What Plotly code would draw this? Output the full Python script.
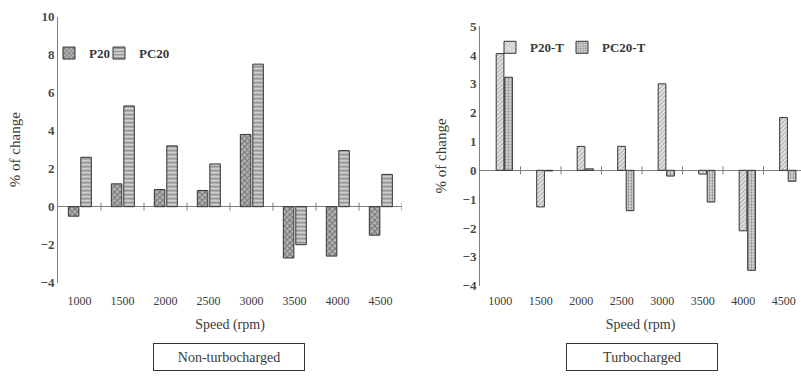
import plotly.graph_objects as go

speeds = ["1000", "1500", "2000", "2500", "3000", "3500", "4000", "4500"]
p20 = [-0.5, 1.2, 0.9, 0.85, 3.8, -2.7, -2.6, -1.5]
pc20 = [2.6, 5.3, 3.2, 2.25, 7.5, -2.0, 2.95, 1.7]
p20_t = [4.05, -1.27, 0.83, 0.83, 3.0, -0.13, -2.1, 1.83]
pc20_t = [3.23, -0.02, 0.05, -1.4, -0.2, -1.1, -3.47, -0.38]

FONT = "Liberation Serif"
TXT = "#3a3a3a"
AX = "#7f7f7f"
W, H = 801, 381

fig = go.Figure()

def bar(name, x, y, xa, ya, shape, bg, fg, off, wid, legend, size=4, sol=0.4):
    fig.add_trace(go.Bar(
        name=name, x=x, y=y, xaxis=xa, yaxis=ya, legend=legend,
        offset=off, width=wid,
        marker=dict(color=bg, line=dict(color="#333333", width=1),
                    pattern=dict(shape=shape, fgcolor=fg, bgcolor=bg, size=size, solidity=sol)),
    ))

bar("P20", speeds, p20, "x", "y", "x", "#b5b5b5", "#2e2e2e", -0.26, 0.245, "legend", 4, 0.45)
bar("PC20", speeds, pc20, "x", "y", "-", "#cfcfcf", "#444444", 0.03, 0.245, "legend2", 4, 0.4)
bar("P20-T", speeds, p20_t, "x2", "y2", "/", "#e6e6e6", "#6a6a6a", -0.1, 0.19, "legend3", 3, 0.35)
bar("PC20-T", speeds, pc20_t, "x2", "y2", ".", "#dcdcdc", "#444444", 0.11, 0.19, "legend4", 3, 0.45)

def px_x(p):
    return p / W

def px_y(p):
    return 1 - p / H

tickfont_x = dict(family=FONT, size=12, color=TXT)
titlefont = dict(family=FONT, size=14, color=TXT)
ytitlefont = dict(family=FONT, size=15, color=TXT)
ytick = dict(family=FONT, size=13, color="#4a4a4a", weight="bold")
legfont = dict(family=FONT, size=13, color=TXT, weight="bold")

def leg(xp, yp):
    return dict(x=px_x(xp), y=px_y(yp), xanchor="left", yanchor="middle",
                orientation="h", bgcolor="rgba(0,0,0,0)", itemwidth=30, font=legfont)

fig.update_layout(
    width=W, height=H, margin=dict(l=0, r=0, t=0, b=0),
    paper_bgcolor="white", plot_bgcolor="white",
    font=dict(family=FONT, color=TXT),
    xaxis=dict(domain=[px_x(58), px_x(402)], anchor="y", type="category",
               range=[-0.5, 7.5], showline=False, showgrid=False, ticks="",
               tickfont=tickfont_x, ticklabelstandoff=9,
               title=dict(text="Speed (rpm)", font=titlefont, standoff=12)),
    yaxis=dict(domain=[px_y(287), px_y(10)], anchor="x", range=[-4, 10],
               dtick=2, showline=True, linecolor=AX, linewidth=1, showgrid=False,
               zeroline=True, zerolinecolor=AX, zerolinewidth=1, ticks="",
               tickfont=ytick,
               title=dict(text="% of change", font=ytitlefont, standoff=16)),
    xaxis2=dict(domain=[px_x(480), 1.0], anchor="y2", type="category",
                range=[-0.5, -0.5 + 321 / 40.5], showline=False, showgrid=False, ticks="",
                tickfont=tickfont_x, ticklabelstandoff=6,
                title=dict(text="Speed (rpm)", font=titlefont, standoff=12)),
    yaxis2=dict(domain=[px_y(290), px_y(20)], anchor="x2", range=[-4, 5],
                dtick=1, showline=True, linecolor=AX, linewidth=1, showgrid=False,
                zeroline=True, zerolinecolor=AX, zerolinewidth=1, ticks="",
                tickfont=ytick,
                title=dict(text="% of change", font=ytitlefont, standoff=12)),
    showlegend=True,
    legend=leg(49, 48),
    legend2=leg(99, 48),
    legend3=leg(490, 42),
    legend4=leg(562, 42),
    barmode="group",
)

shapes = []
for xr, yr in (("x", "y"), ("x2", "y2")):
    for i in range(len(speeds)):
        shapes.append(dict(type="line", xref=xr, yref=yr, x0=i + 0.5, x1=i + 0.5,
                           ysizemode="pixel", yanchor=0, y0=-4, y1=4,
                           line=dict(color=AX, width=1)))
fig.update_layout(shapes=shapes)

for label, cx in (("Non-turbocharged", 229), ("Turbocharged", 642)):
    fig.add_annotation(text=label, xref="paper", yref="paper", x=px_x(cx), y=px_y(364),
                       xanchor="center", yanchor="middle", showarrow=False,
                       width=148, height=24, bordercolor="#333333", borderwidth=1,
                       font=dict(family=FONT, size=14, color=TXT))

fig.write_html("out.html")
